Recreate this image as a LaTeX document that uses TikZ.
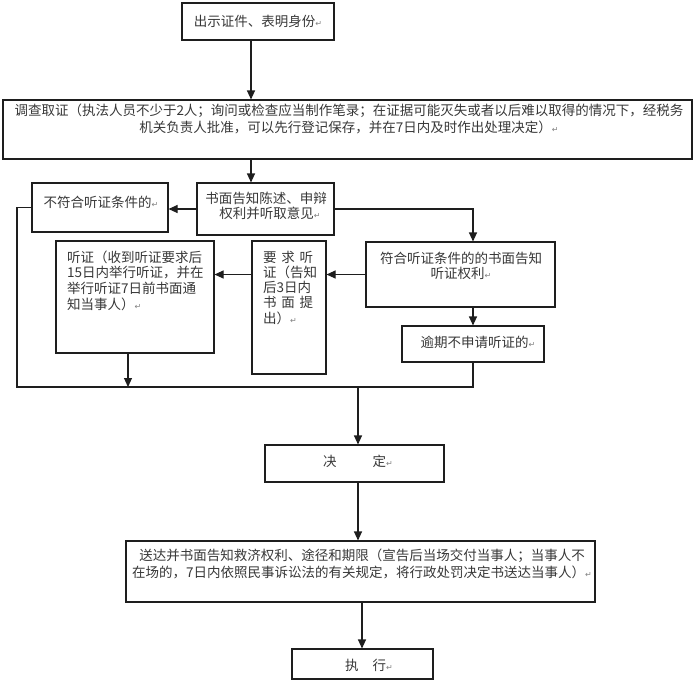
\documentclass[tikz,border=0pt]{standalone}
\usepackage{fontspec}
\setmainfont{Noto Sans CJK SC}
\newfontfamily\dvfont{DejaVu Sans}
\usetikzlibrary{arrows.meta}
\definecolor{linec}{RGB}{30,30,30}
\definecolor{textc}{RGB}{55,55,55}
\newcommand\retmark{{\dvfont\fontsize{8}{8}\selectfont\color{gray}↵}}
\newcommand\fs[1]{\fontsize{13.5}{#1}\selectfont}
\begin{document}
\begin{tikzpicture}[x=1pt,y=-1pt,
  box/.style={draw=linec, line width=1.1pt, inner sep=0pt},
  txt/.style={inner sep=0pt, align=center, text=textc},
  arr/.style={draw=linec, line width=1.1pt, -{Triangle[width=8pt,length=9pt]}},
  ln/.style={draw=linec, line width=1.1pt}]
\useasboundingbox (0,0) rectangle (696,681);
% boxes
\node[box, minimum width=152, minimum height=37] (b1) at (258,21.5) {};
\node[box, minimum width=689, minimum height=59] (b2) at (347.5,129.5) {};
\node[box, minimum width=137, minimum height=52] (b3) at (265.5,209) {};
\node[box, minimum width=136, minimum height=49] (b4) at (100,207.5) {};
\node[box, minimum width=158, minimum height=112] (b5) at (135,297) {};
\node[box, minimum width=74, minimum height=133] (b6) at (289,307.5) {};
\node[box, minimum width=189, minimum height=65] (b7) at (460.5,274.5) {};
\node[box, minimum width=142, minimum height=36] (b8) at (473,344) {};
\node[box, minimum width=179, minimum height=37] (b9) at (354.5,463.5) {};
\node[box, minimum width=469, minimum height=61] (b10) at (360.5,571.5) {};
\node[box, minimum width=141, minimum height=30] (b11) at (362.5,664) {};
% texts
\node[txt, font=\fs{17}] (t1) at (258,21) {出示证件、表明身份\retmark};
\node[txt, font=\fs{17}] (t2) at (349,118.5) {调查取证（执法人员不少于2人；询问或检查应当制作笔录；在证据可能灭失或者以后难以取得的情况下，经税务\\机关负责人批准，可以先行登记保存，并在7日内及时作出处理决定）\retmark};
\node[txt, font=\fs{14.5}] (t3) at (266,206) {书面告知陈述、申辩\\\hspace*{8pt}权利并听取意见\retmark};
\node[txt, font=\fs{17}] (t4) at (101,202) {不符合听证条件的\retmark};
\node[txt, font=\fs{15.6}, anchor=north west, text width=140, align=left] (t5) at (67,250.5) {听证（收到听证要求后\\15日内举行听证，并在\\举行听证7日前书面通\\知当事人）\retmark};
\node[txt, font=\fs{15.3}, anchor=north west, text width=56, align=left] (t6) at (263,250.5) {\makebox[50pt][s]{要\hfil 求\hfil 听}\\证（告知\\后3日内\\\makebox[50pt][s]{书\hfil 面\hfil 提}\\出）\retmark};
\node[txt, font=\fs{15}] (t7) at (461,265.5) {符合听证条件的的书面告知\\听证权利\retmark};
\node[txt, font=\fs{17}] (t8) at (478,342) {逾期不申请听证的\retmark};
\node[txt, font=\fs{17}] (t9) at (358,461) {决\hspace{36pt}定\retmark};
\node[txt, font=\fs{17}] (t10) at (362,563.5) {送达并书面告知救济权利、途径和期限（宣告后当场交付当事人；当事人不\\在场的，7日内依照民事诉讼法的有关规定，将行政处罚决定书送达当事人）\retmark};
\node[txt, font=\fs{17}] (t11) at (369,665) {执\hspace{14pt}行\retmark};
% junction coordinates
\coordinate (x1) at (251,0);
\coordinate (jL) at (17,387);
\coordinate (jR) at (473,387);
\coordinate (jM) at (358,387);
\coordinate (j5) at (128,387);
\coordinate (x10) at (362,0);
% connectors
\draw[arr] (b1.south -| x1) -- (b2.north -| x1);
\draw[arr] (b2.south -| x1) -- (b3.north -| x1);
\draw[arr] (b3.west) -- (b3.west -| b4.east);
\draw[ln] (b4.west) -| (jL) -- (jR) -- (b8.south);
\draw[arr] (b3.east) -| (b7.north -| jR);
\draw[arr] (b7.south -| jR) -- (b8.north -| jR);
\draw[arr] (b7.west) -- (b7.west -| b6.east);
\draw[arr] (b7.west -| b6.west) -- (b7.west -| b5.east);
\draw[arr] (b5.south -| j5) -- (j5);
\draw[arr] (jM) -- (b9.north -| jM);
\draw[arr] (b9.south -| jM) -- (b10.north -| jM);
\draw[arr] (b10.south -| x10) -- (b11.north -| x10);
\end{tikzpicture}
\end{document}
